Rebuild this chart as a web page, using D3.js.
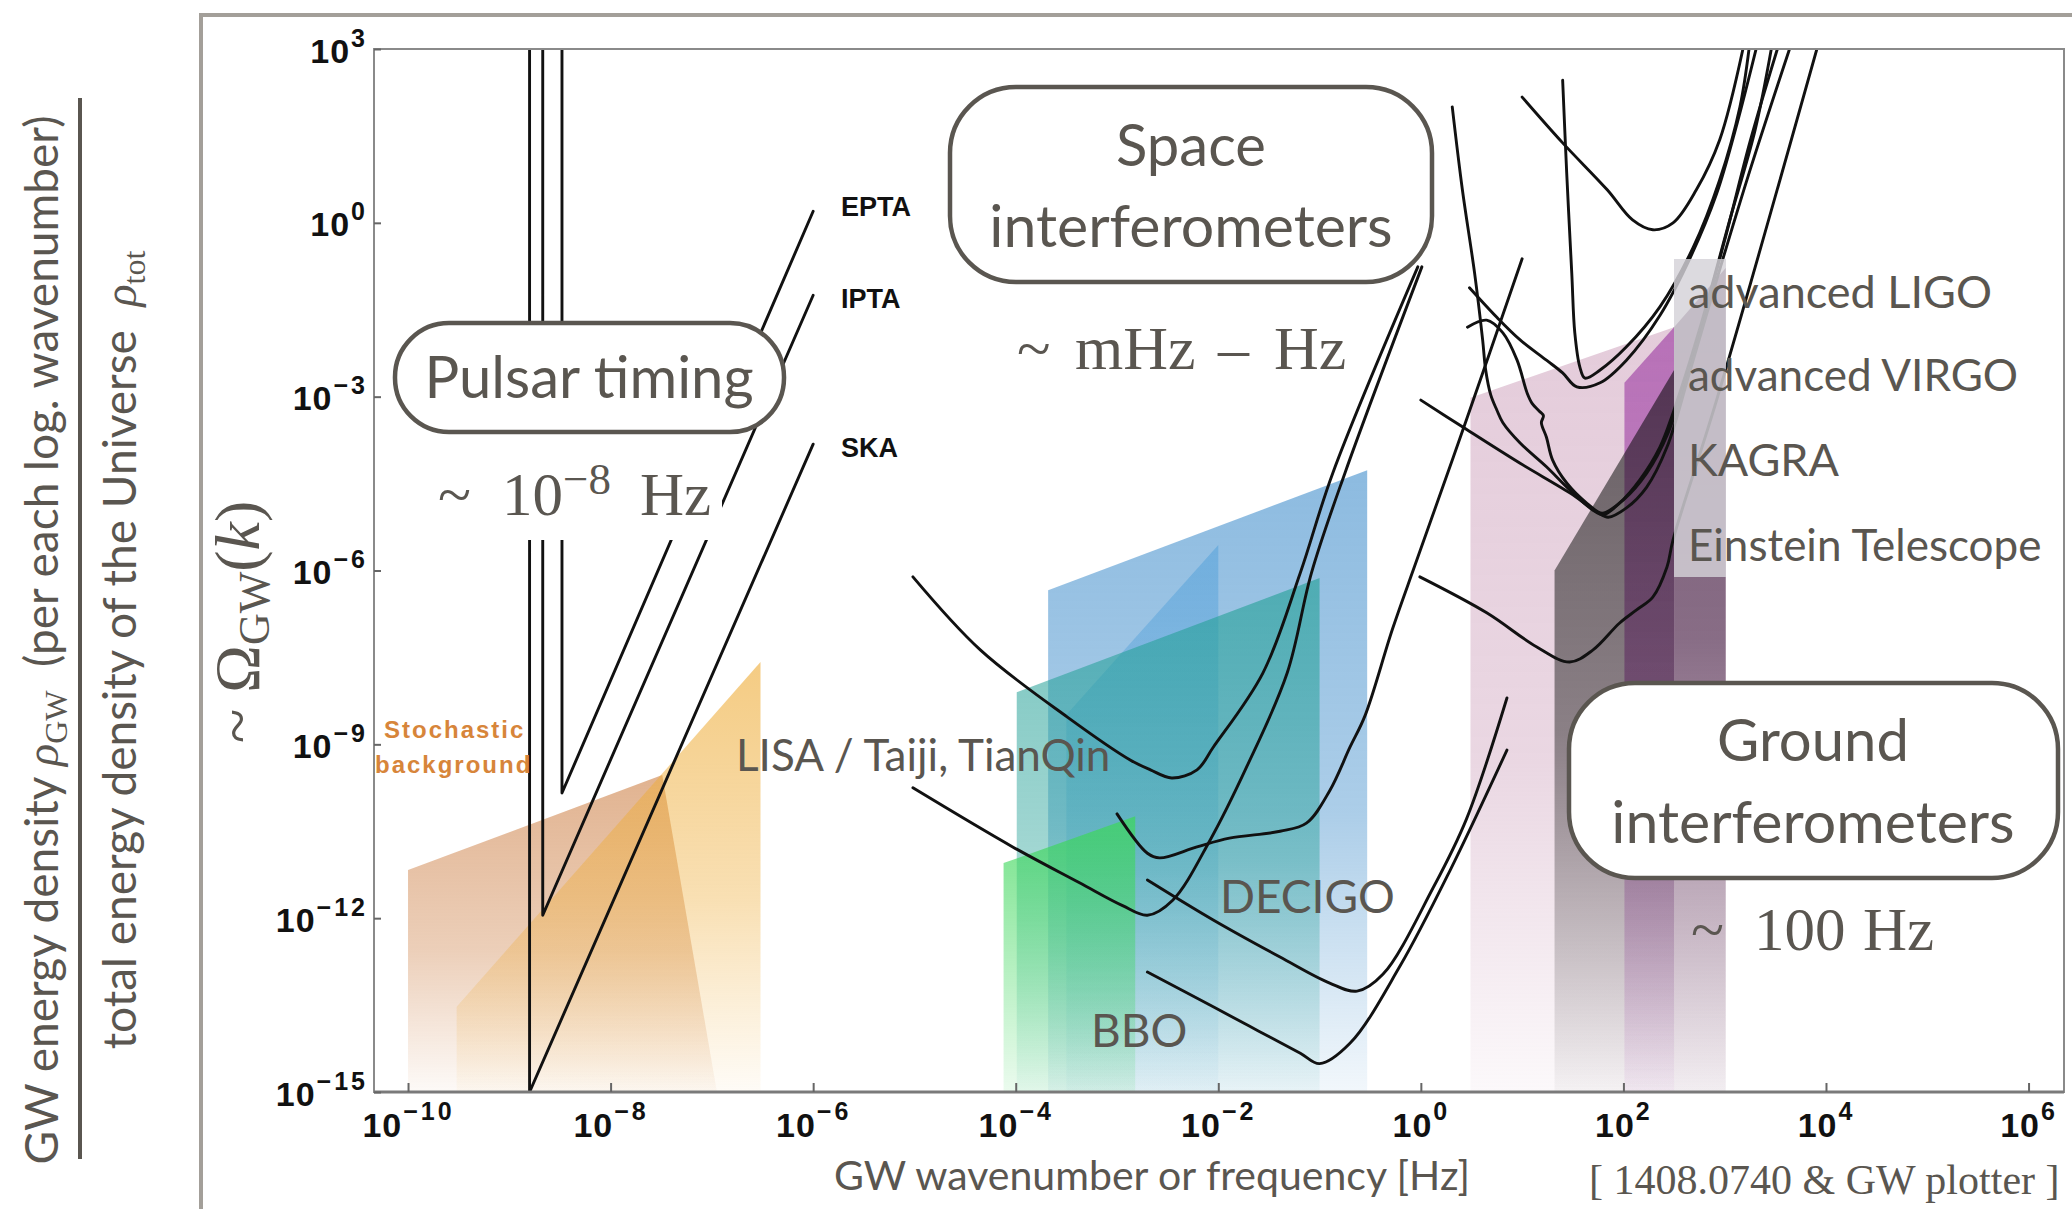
<!DOCTYPE html>
<html><head><meta charset="utf-8">
<script src="https://cdn.jsdelivr.net/npm/d3@7/dist/d3.min.js"></script>
<style>
html,body{margin:0;padding:0;background:#fff;overflow:hidden}
svg{display:block}
text{white-space:pre}
.gill{font-family:Lato,"Open Sans",sans-serif;fill:#5a5650}
.serif{font-family:"Liberation Serif","DejaVu Serif",serif;fill:#5a5650}
.tick text{font-family:"Liberation Sans",Arial,sans-serif;font-weight:bold;font-size:34px;fill:#111}
</style></head><body>
<svg id="chart" width="2072" height="1209" xmlns="http://www.w3.org/2000/svg"></svg>
<script>
// ================= DATA  (pairs are [log10 frequency/Hz, log10 Omega_GW]) =================
const xTickExp = [-10,-8,-6,-4,-2,0,2,4,6];
const yTickExp = [3,0,-3,-6,-9,-12,-15];

// Pulsar timing arrays
const EPTA = [[-8.48,3],[-8.48,-9.84],[-6.0,0.2]];
const IPTA = [[-8.67,3],[-8.67,-11.95],[-6.0,-1.25]];
const SKA  = [[-8.80,3],[-8.80,-15],[-6.0,-3.82]];

// Space interferometers
const LISA = [[-5.015,-6.11],[-4.35,-7.37],[-3.49,-8.53],[-2.87,-9.27],[-2.67,-9.44],[-2.46,-9.58],[-2.21,-9.44],[-2.05,-9.05],[-1.56,-7.77],[-1.19,-6.04],[-0.87,-4.32],[-0.03,-0.76]];
const Taiji = [[-5.015,-9.75],[-4.03,-10.77],[-3.37,-11.39],[-2.95,-11.78],[-2.70,-11.95],[-2.45,-11.69],[-2.08,-10.65],[-1.72,-9.39],[-1.32,-7.77],[-1.08,-6.04],[-0.75,-4.32],[0.01,-0.76]];
const TianQin = [[-3.0,-10.2],[-2.70,-10.88],[-2.58,-10.96],[-2.21,-10.77],[-1.89,-10.62],[-1.39,-10.50],[-1.13,-10.36],[-0.90,-9.80],[-0.70,-9.05],[-0.55,-8.50],[-0.28,-7.01],[-0.04,-5.82],[0.45,-3.40],[1.0,-0.62]];
const DECIGO = [[-2.70,-11.34],[-2.05,-12.03],[-1.39,-12.67],[-0.90,-13.12],[-0.63,-13.26],[-0.375,-12.97],[0.12,-11.48],[0.45,-10.29],[0.85,-8.2]];
const BBO = [[-2.70,-12.93],[-2.05,-13.53],[-1.6,-13.95],[-1.19,-14.33],[-1.0,-14.51],[-0.70,-14.16],[-0.21,-12.84],[0.29,-11.17],[0.85,-9.1]];

// Ground interferometers
const groundA = [[1.0,2.17],[1.4,1.38],[1.84,0.57],[2.09,0.05],[2.29,-0.12],[2.49,0.0],[2.72,0.57],[2.95,1.43],[3.18,3.0]];
const groundB = [[1.40,2.46],[1.44,0.86],[1.49,-0.87],[1.52,-1.90],[1.57,-2.49],[1.62,-2.68],[1.77,-2.54],[2.03,-2.14],[2.36,-1.45],[2.69,-0.42],[2.95,0.74],[3.15,2.0],[3.24,3.0]];
const groundC = [[0.48,-1.12],[0.75,-1.63],[0.98,-2.02],[1.24,-2.37],[1.40,-2.59],[1.54,-2.83],[1.77,-2.76],[2.03,-2.37],[2.36,-1.6],[2.66,-0.6],[2.92,0.5],[3.12,1.7],[3.31,3.0]];
const aLIGO = [[0.31,2.0],[0.41,0.57],[0.53,-0.86],[0.61,-2.02],[0.64,-2.54],[0.69,-2.97],[0.75,-3.23],[0.81,-3.45],[0.98,-3.80],[1.24,-4.21],[1.47,-4.61],[1.70,-4.96],[1.80,-5.04],[1.96,-4.84],[2.16,-4.44],[2.36,-3.87],[2.49,-3.28],[2.75,-1.85],[3.05,0.05],[3.30,1.6],[3.46,3.0]];
const aVIRGO = [[0.46,-1.80],[0.65,-1.68],[0.81,-1.90],[0.95,-2.37],[1.05,-2.94],[1.10,-3.12],[1.17,-3.25],[1.21,-3.33],[1.19,-3.45],[1.24,-3.70],[1.30,-4.09],[1.44,-4.49],[1.64,-4.84],[1.79,-5.01],[2.0,-4.78],[2.23,-4.32],[2.44,-3.63],[2.70,-2.2],[3.0,-0.3],[3.25,1.4],[3.52,3.0]];
const KAGRA = [[0.0,-3.06],[0.41,-3.52],[0.98,-4.15],[1.47,-4.66],[1.74,-4.99],[1.85,-5.08],[2.03,-4.92],[2.23,-4.56],[2.43,-3.87],[2.66,-2.54],[2.95,-0.81],[3.25,0.91],[3.64,3.0]];
const ET = [[-0.01,-6.11],[0.65,-6.73],[1.145,-7.32],[1.47,-7.58],[1.70,-7.37],[1.96,-6.91],[2.13,-6.68],[2.29,-6.46],[2.43,-5.94],[2.49,-5.47],[2.92,-3.06],[3.91,3.0]];

// Shaded signal / sensitivity regions
const stochasticA = [[-10,-11.17],[-7.49,-9.53],[-6.95,-15],[-10,-15]];
const stochasticB = [[-9.52,-13.53],[-6.52,-7.58],[-6.52,-15],[-9.52,-15]];
const spaceBlue  = [[-3.68,-6.34],[-0.53,-4.27],[-0.53,-15],[-3.68,-15]];
const spaceBlue2 = [[-3.50,-8.49],[-2.0,-5.56],[-2.0,-15],[-3.50,-15]];
const spaceTeal  = [[-3.99,-8.10],[-1.0,-6.13],[-1.0,-15],[-3.99,-15]];
const spaceGreen = [[-4.12,-11.05],[-2.82,-10.24],[-2.82,-15],[-4.12,-15]];
const groundPink = [[0.49,-3.02],[2.5,-1.80],[3.01,-0.78],[3.01,-15],[0.49,-15]];
const groundGray = [[1.32,-6.0],[2.50,-2.54],[2.50,-15],[1.32,-15]];
const groundPurple = [[2.01,-2.76],[2.5,-1.8],[2.5,-15],[2.01,-15]];
const groundBand = [[2.5,-1.8],[3.01,-0.78],[3.01,-15],[2.5,-15]];

// ================= DRAWING =================
const svg = d3.select('#chart');
const defs = svg.append('defs');
const X0=374, X1=2064, Y0=49, Y1=1092;
const x = d3.scaleLog().domain([Math.pow(10,-10.336), Math.pow(10,6.35)]).range([X0,X1]);
const y = d3.scaleLog().domain([1e-15,1e3]).range([Y1,Y0]);
const px = d => x(Math.pow(10,d[0])), py = d => y(Math.pow(10,d[1]));

defs.append('clipPath').attr('id','plotclip').append('rect')
  .attr('x',X0).attr('y',Y0).attr('width',X1-X0).attr('height',Y1-Y0);

// outer slide frame
svg.append('path').attr('d','M199,15H2072M201,13V1209')
  .attr('stroke','#a39f99').attr('stroke-width',4).attr('fill','none');

function grad(id,color,stops){
  const g=defs.append('linearGradient').attr('id',id).attr('x1',0).attr('y1',0).attr('x2',0).attr('y2',1);
  stops.forEach(([o,a])=>g.append('stop').attr('offset',o).attr('stop-color',color).attr('stop-opacity',a));
}
const regionStyle = [
  [stochasticA,'rgb(205,128,70)',[[0,0.6],[0.55,0.38],[1,0.04]],null],
  [stochasticB,'rgb(238,172,55)',[[0,0.62],[0.55,0.38],[1,0.04]],null],
  [spaceBlue,'rgb(70,145,205)',[[0,0.62],[0.55,0.45],[1,0.07]],null],
  [spaceBlue2,'rgb(60,150,215)',[[0,0.4],[1,0.04]],null],
  [spaceTeal,'rgb(35,160,150)',[[0,0.62],[0.55,0.42],[1,0.05]],null],
  [spaceGreen,'rgb(60,215,90)',[[0,0.72],[1,0.1]],null],
  [groundPink,'rgb(200,150,180)',[[0,0.5],[0.6,0.38],[1,0.06]],null],
  [groundGray,'rgb(75,70,72)',[[0,0.82],[0.5,0.6],[1,0.04]],null],
  [groundBand,'rgb(95,65,95)',[[0,0.85],[0.45,0.7],[1,0.06]],null],
  [groundPurple,'rgb(204,140,213)',[[0,1],[0.5,0.85],[1,0.1]],'multiply']
];
const gReg = svg.append('g').attr('clip-path','url(#plotclip)');
regionStyle.forEach(([pts,col,stops,blend],i)=>{
  grad('rg'+i,col,stops);
  const p = gReg.append('path')
    .attr('d', d3.line().x(px).y(py)(pts)+'Z')
    .attr('fill','url(#rg'+i+')');
  if(blend) p.style('mix-blend-mode',blend);
});

// curves
const smooth = d3.line().x(px).y(py).curve(d3.curveCatmullRom.alpha(0.5));
const straight = d3.line().x(px).y(py);
const gCur = svg.append('g').attr('clip-path','url(#plotclip)')
  .attr('fill','none').attr('stroke','#111').attr('stroke-width',2.9)
  .attr('stroke-linejoin','round').attr('stroke-linecap','round');
[EPTA,IPTA,SKA].forEach(c=>gCur.append('path').attr('d',straight(c)));
[LISA,Taiji,TianQin,DECIGO,BBO,groundA,groundB,groundC,aLIGO,aVIRGO,KAGRA,ET]
  .forEach(c=>gCur.append('path').attr('d',smooth(c)));

// translucent label panel
svg.append('rect').attr('x',1674).attr('y',259).attr('width',52).attr('height',318)
  .attr('fill','rgb(212,210,216)').attr('fill-opacity',0.82);

// white boxes
const boxStroke='#5a5650';
function box(x0,y0,w,h,r){
  svg.append('rect').attr('x',x0).attr('y',y0).attr('width',w).attr('height',h)
    .attr('rx',r).attr('ry',r).attr('fill','#fff').attr('stroke',boxStroke).attr('stroke-width',4.5);
}
svg.append('rect').attr('x',430).attr('y',432).attr('width',292).attr('height',108).attr('fill','#fff');
box(395,323,389,109,54);
box(950,87,482,195,66);
box(1569,683,489,195,66);

function gtext(str,xx,yy,size,anchor){
  return svg.append('text').attr('class','gill').attr('x',xx).attr('y',yy)
    .attr('font-size',size).attr('text-anchor',anchor||'start').text(str);
}
gtext('Pulsar timing',589,398,58,'middle');
gtext('Space',1191,166,58,'middle');
gtext('interferometers',1191,247,59,'middle');
gtext('Ground',1813,761,58,'middle');
gtext('interferometers',1813,843,59,'middle');
gtext('LISA / Taiji, TianQin',736,771,44);
gtext('DECIGO',1220,913,46);
gtext('BBO',1091,1047,46);
gtext('advanced LIGO',1688,308,45);
gtext('advanced VIRGO',1688,391,44);
gtext('KAGRA',1688,476,45);
gtext('Einstein Telescope',1688,561,44);

// Times-style frequency annotations
function stext(parts,yy,size){
  const t=svg.append('text').attr('class','serif').attr('y',yy).attr('font-size',size);
  parts.forEach(p=>{
    const s=t.append('tspan').text(p.t);
    if(p.x!==undefined) s.attr('x',p.x);
    if(p.dy) s.attr('dy',p.dy);
    if(p.fs) s.attr('font-size',p.fs);
  });
}
stext([{t:'~',x:438},{t:'10',x:502},{t:'−8',dy:-21,fs:45},{t:'Hz',x:640,dy:21}],515,61);
stext([{t:'~',x:1017},{t:'mHz',x:1075},{t:'–',x:1218},{t:'Hz',x:1274}],369,62);
stext([{t:'~',x:1691},{t:'100',x:1754},{t:'Hz',x:1863}],950,61);

// pulsar array names
[['EPTA',216],['IPTA',308],['SKA',457]].forEach(([s,yy])=>{
  svg.append('text').attr('x',841).attr('y',yy).attr('font-family','"Liberation Sans",Arial,sans-serif')
    .attr('font-weight','bold').attr('font-size',27).attr('fill','#111').text(s);
});
[['Stochastic',384,738],['background',375,773]].forEach(([s,xx,yy])=>{
  svg.append('text').attr('x',xx).attr('y',yy).attr('font-family','"Liberation Sans",Arial,sans-serif')
    .attr('font-weight','bold').attr('font-size',24).attr('letter-spacing',2).attr('fill','#d7853a').text(s);
});

// plot frame
svg.append('rect').attr('x',X0).attr('y',Y0).attr('width',X1-X0).attr('height',Y1-Y0)
  .attr('fill','none').attr('stroke','#8a8a8a').attr('stroke-width',2);
svg.append('line').attr('x1',X0).attr('x2',X1).attr('y1',Y1).attr('y2',Y1)
  .attr('stroke','#7a7a7a').attr('stroke-width',3);

// axes
function supLabels(sel,supDy){
  sel.selectAll('.tick text').each(function(d){
    const e=Math.round(Math.log10(d));
    const t=d3.select(this); t.text(null);
    t.append('tspan').attr('letter-spacing',1).text('10');
    t.append('tspan').attr('dy',supDy).attr('dx',1).attr('font-size',25).attr('letter-spacing',3)
      .text(e<0?'−'+(-e):String(e));
  });
}
const xAxis = d3.axisBottom(x).tickValues(xTickExp.map(e=>Math.pow(10,e)))
  .tickSizeInner(-9).tickSizeOuter(0).tickFormat(()=>'');
const gx = svg.append('g').attr('transform',`translate(0,${Y1})`).call(xAxis);
gx.select('.domain').remove();
gx.selectAll('.tick line').attr('stroke','#666').attr('stroke-width',2);
gx.selectAll('.tick text').attr('y',45).attr('dy',null).attr('text-anchor','middle');
supLabels(gx,-17);

const yAxis = d3.axisLeft(y).tickValues(yTickExp.map(e=>Math.pow(10,e)))
  .tickSizeInner(-7).tickSizeOuter(0).tickFormat(()=>'');
const gy = svg.append('g').attr('transform',`translate(${X0},0)`).call(yAxis);
gy.select('.domain').remove();
gy.selectAll('.tick line').attr('stroke','#666').attr('stroke-width',2);
gy.selectAll('.tick text').attr('x',-6).attr('dy',null).attr('y',13).attr('text-anchor','end');
supLabels(gy,-16);

// axis titles
gtext('GW wavenumber or frequency [Hz]',834,1190,41);
svg.append('text').attr('class','serif').attr('x',1589).attr('y',1194).attr('font-size',42)
  .text('[ 1408.0740 & GW plotter ]');

// y-axis fraction label
svg.append('line').attr('x1',80).attr('x2',80).attr('y1',98).attr('y2',1159)
  .attr('stroke','#5a5650').attr('stroke-width',4);
const num = svg.append('text').attr('class','gill').attr('font-size',46)
  .attr('text-anchor','middle').attr('transform','translate(58,640) rotate(-90)');
num.append('tspan').text('GW energy density ');
num.append('tspan').attr('font-family','"Liberation Serif",serif').attr('font-style','italic').text('ρ');
num.append('tspan').attr('font-family','"Liberation Serif",serif').attr('font-size',32).attr('dy',9).text('GW');
num.append('tspan').attr('dy',-9).text('  (per each log. wavenumber)');
const den = svg.append('text').attr('class','gill').attr('font-size',46)
  .attr('text-anchor','middle').attr('transform','translate(136,650) rotate(-90)');
den.append('tspan').text('total energy density of the Universe  ');
den.append('tspan').attr('font-family','"Liberation Serif",serif').attr('font-style','italic').text('ρ');
den.append('tspan').attr('font-family','"Liberation Serif",serif').attr('font-size',32).attr('dy',9).text('tot');

const om = svg.append('text').attr('class','serif').attr('font-size',64)
  .attr('text-anchor','middle').attr('transform','translate(259,622) rotate(-90)');
om.append('tspan').text('~ Ω');
om.append('tspan').attr('font-size',44).attr('dy',10).text('GW');
om.append('tspan').attr('dy',-10).text('(');
om.append('tspan').attr('font-style','italic').text('k');
om.append('tspan').text(')');
</script>
</body></html>
